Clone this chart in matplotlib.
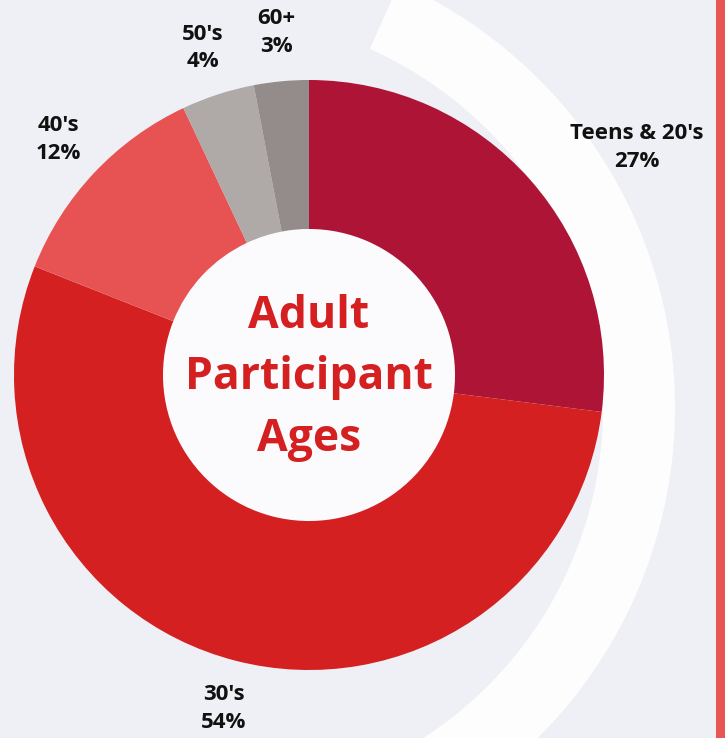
import matplotlib.pyplot as plt
import numpy as np
from matplotlib.patches import Wedge, Rectangle, Circle

groups = ["Teens & 20's", "30's", "40's", "50's", "60+"]
shares = [27, 54, 12, 4, 3]
colors = ['#AD1436', '#D42020', '#E75353', '#AFA9A8', '#948C8B']

plt.rcParams['font.family'] = ['Open Sans', 'DejaVu Sans']

fig = plt.figure(figsize=(7.25, 7.38), dpi=100)
fig.patch.set_facecolor('#EFF0F5')
ax = fig.add_axes([0, 0, 1, 1])

cx, cy, R = 309, 363, 295
wedges, _ = ax.pie(shares, colors=colors, startangle=90, counterclock=False,
                   center=(cx, cy), radius=R, frame=True,
                   wedgeprops=dict(width=R * 0.505, edgecolor='none', zorder=2))
ax.set_xlim(0, 725)
ax.set_ylim(0, 738)
ax.set_aspect('equal')
ax.axis('off')

# soft white swoosh behind the donut, white hole in the middle
ax.add_patch(Wedge((210, 330), 465, -60, 66, width=72, facecolor='white',
                   edgecolor='none', alpha=0.9, zorder=0))
ax.add_patch(Circle((cx, cy), R * 0.495, facecolor='#FBFBFD', edgecolor='none', zorder=1))
# red strip on the right edge
ax.add_patch(Rectangle((716, 0), 9, 738, facecolor='#E85555', edgecolor='none', zorder=1))

# outside labels
dist = [1.353, 1.166, 1.166, 1.166, 1.166]
shift = [-6.7, 0, 0, 0, 0]
for w, g, s, d, sh in zip(wedges, groups, shares, dist, shift):
    ang = np.deg2rad((w.theta1 + w.theta2) / 2 + sh)
    ax.text(cx + d * R * np.cos(ang), cy + d * R * np.sin(ang), f"{g}\n{s}%",
            ha='center', va='center', fontsize=16, fontweight='bold',
            color='#111111', linespacing=1.42, zorder=3)

ax.text(cx, cy - 3, "Adult\nParticipant\nAges", ha='center', va='center',
        fontsize=32, fontweight='bold', color='#D42020', linespacing=1.5, zorder=3)

fig.savefig('out.png', dpi=100, facecolor=fig.get_facecolor())
